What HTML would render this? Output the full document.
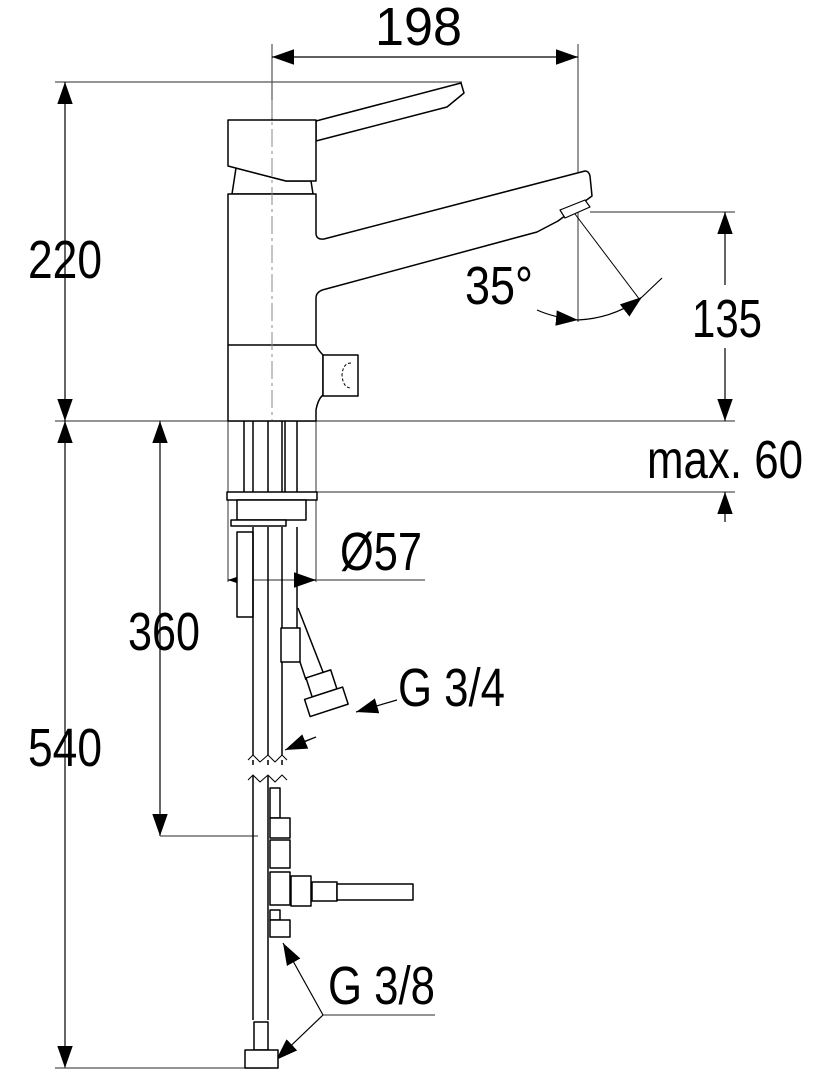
<!DOCTYPE html>
<html><head><meta charset="utf-8"><style>
html,body{margin:0;padding:0;background:#fff;}
svg{display:block}
text{font-family:"Liberation Sans",sans-serif;fill:#000;}
</style></head><body>
<svg width="832" height="1080" viewBox="0 0 832 1080" xmlns="http://www.w3.org/2000/svg">
<defs>
<marker id="a" viewBox="0 0 10 10" refX="10" refY="5" markerWidth="22" markerHeight="22" markerUnits="userSpaceOnUse" orient="auto-start-reverse"><path d="M0,1.5 L10,5 L0,8.5Z" fill="#000"/></marker>
</defs>
<g fill="none" stroke="#555" stroke-width="1.2">
<!-- dimension lines -->
<line x1="272" y1="44" x2="272" y2="420"/>
<line x1="578" y1="44" x2="578" y2="322"/>
<line x1="272" y1="57" x2="578" y2="57" stroke="#000" marker-start="url(#a)" marker-end="url(#a)"/>
<line x1="55" y1="82" x2="462" y2="82"/>
<line x1="55" y1="421" x2="735" y2="421"/>
<line x1="65" y1="82" x2="65" y2="421" stroke="#000" marker-start="url(#a)" marker-end="url(#a)"/>
<line x1="65" y1="421" x2="65" y2="1068" stroke="#000" marker-start="url(#a)" marker-end="url(#a)"/>
<line x1="55" y1="1068" x2="270" y2="1068"/>
<line x1="160" y1="421" x2="160" y2="836" stroke="#000" marker-start="url(#a)" marker-end="url(#a)"/>
<line x1="160" y1="836" x2="258" y2="836"/>
<line x1="590" y1="212" x2="735" y2="212"/>
<line x1="725" y1="212" x2="725" y2="285" stroke="#000" marker-start="url(#a)"/>
<line x1="725" y1="348" x2="725" y2="421" stroke="#000" marker-end="url(#a)"/>
<line x1="316" y1="492" x2="735" y2="492"/>
<line x1="725" y1="522" x2="725" y2="492" stroke="#000" marker-end="url(#a)"/>
<line x1="228" y1="420" x2="228" y2="582"/>
<line x1="316" y1="420" x2="316" y2="582"/>
<line x1="228" y1="580" x2="425" y2="580"/>
<line x1="252" y1="580" x2="228" y2="580" stroke="#000" marker-end="url(#a)"/>
<line x1="294" y1="580" x2="316" y2="580" stroke="#000" marker-end="url(#a)"/>
<!-- 35 deg -->
<line x1="575" y1="214" x2="640" y2="300" stroke="#000" stroke-width="1"/>
<path d="M537,310 Q555,318 578,320" stroke="#000" marker-end="url(#a)"/>
<path d="M578,320 Q615,318 642,297" stroke="#000" marker-end="url(#a)"/>
<line x1="642" y1="297" x2="662" y2="278" stroke="#000"/>
<!-- G leaders -->
<line x1="397" y1="700" x2="356" y2="712" stroke="#000" marker-end="url(#a)"/>
<line x1="300" y1="743" x2="316" y2="737" stroke="#000"/>
<line x1="285" y1="750" x2="316" y2="737" stroke="#000" marker-start="url(#a)"/>
<line x1="435" y1="1015" x2="323" y2="1015"/>
<line x1="323" y1="1015" x2="283" y2="943" stroke="#000" marker-end="url(#a)"/>
<line x1="323" y1="1015" x2="276" y2="1060" stroke="#000" marker-end="url(#a)"/>
</g>
<!-- tap -->
<g fill="#fff" stroke="#000" stroke-width="1.5" stroke-linejoin="round">
<path d="M316,121 L461,83 L464,93 L447,107 L316,141Z"/>
<path d="M236,168 L232,194 L313,194 L311,181 L286,181Z"/>
<path d="M228,120 L316,120 L316,181 L286,181 L228,166Z"/>
<path d="M228,194 L316,194 L316,233 Q316,240 324,239 L585,171 Q589,171 590,176 L592,196 L558,221 L537,232 L326,289 Q316,291 316,298 L316,345 Q318,350 323,355 L323,395 Q318,399 316,410 L316,421 L228,421Z"/>
<line x1="228" y1="345" x2="316" y2="345"/>
<rect x="323" y="355" width="35" height="41"/>
<path d="M351,363 Q343,363 342,375 Q343,388 351,388" stroke-dasharray="3,2" stroke-width="1"/>
<path d="M560,210 L585,200 L590,207 L565,218Z" stroke-width="1.2"/>
<!-- shank -->
<line x1="244" y1="421" x2="244" y2="492"/><line x1="253" y1="421" x2="253" y2="492"/>
<line x1="268" y1="421" x2="268" y2="492"/><line x1="282" y1="421" x2="282" y2="492"/>
<line x1="285" y1="421" x2="285" y2="492"/><line x1="297" y1="421" x2="297" y2="492"/>
<rect x="227" y="492" width="90" height="8"/>
<path d="M237,500 L306,500 L306,520 L237,520Z"/>
<rect x="231" y="520" width="55" height="6"/>
<rect x="237" y="532" width="16" height="85"/>
<line x1="253" y1="527" x2="253" y2="765"/><line x1="268" y1="527" x2="268" y2="765"/><line x1="282" y1="527" x2="282" y2="628"/>
<line x1="297" y1="527" x2="297" y2="628"/>
<rect x="281" y="628" width="19" height="34"/>
<line x1="282" y1="662" x2="282" y2="765"/>
<line x1="298" y1="608" x2="323" y2="672"/><line x1="300" y1="662" x2="306" y2="680"/>
<g transform="translate(323,685) rotate(-18)">
<rect x="-14" y="-12" width="26" height="20"/>
<rect x="-22" y="8" width="40" height="18"/>
</g>
<!-- break -->
<path d="M248,760 L253,755 L260,762 L268,755 L275,762 L282,755 L287,760" stroke-width="1"/>
<path d="M248,780 L253,775 L260,782 L268,775 L275,782 L282,775 L287,780" stroke-width="1"/>
<!-- lower -->
<line x1="253" y1="776" x2="253" y2="1020"/><line x1="268" y1="776" x2="268" y2="1020"/>
<rect x="270" y="788" width="10" height="30"/>
<rect x="270" y="818" width="20" height="20"/>
<rect x="270" y="840" width="20" height="28"/>
<path d="M270,872 L290,872 L290,905 L270,905Z"/>
<rect x="291" y="876" width="20" height="30"/>
<rect x="312" y="882" width="25" height="19"/>
<rect x="337" y="884" width="76" height="16"/>
<rect x="270" y="910" width="10" height="10"/>
<path d="M270,920 L290,920 L290,937 L270,937Z"/>
<rect x="254" y="1022" width="14" height="28"/>
<rect x="245" y="1050" width="33" height="18"/>
</g>
<!-- center dash-dot over body -->
<line x1="272" y1="100" x2="272" y2="420" stroke="#888" stroke-width="1" stroke-dasharray="18,4,3,4"/>
<!-- texts -->
<g font-size="54">
<text x="375" y="45" textLength="87" lengthAdjust="spacingAndGlyphs">198</text>
<text x="28" y="278" textLength="74" lengthAdjust="spacingAndGlyphs">220</text>
<text x="692" y="337" textLength="70" lengthAdjust="spacingAndGlyphs">135</text>
<text x="647" y="478" textLength="156" lengthAdjust="spacingAndGlyphs">max. 60</text>
<text x="465" y="304" textLength="68" lengthAdjust="spacingAndGlyphs">35°</text>
<text x="340" y="570" textLength="82" lengthAdjust="spacingAndGlyphs">Ø57</text>
<text x="128" y="650" textLength="72" lengthAdjust="spacingAndGlyphs">360</text>
<text x="28" y="766" textLength="74" lengthAdjust="spacingAndGlyphs">540</text>
<text x="398" y="706" textLength="107" lengthAdjust="spacingAndGlyphs">G 3/4</text>
<text x="328" y="1004" textLength="107" lengthAdjust="spacingAndGlyphs">G 3/8</text>
</g>
</svg>
</body></html>
